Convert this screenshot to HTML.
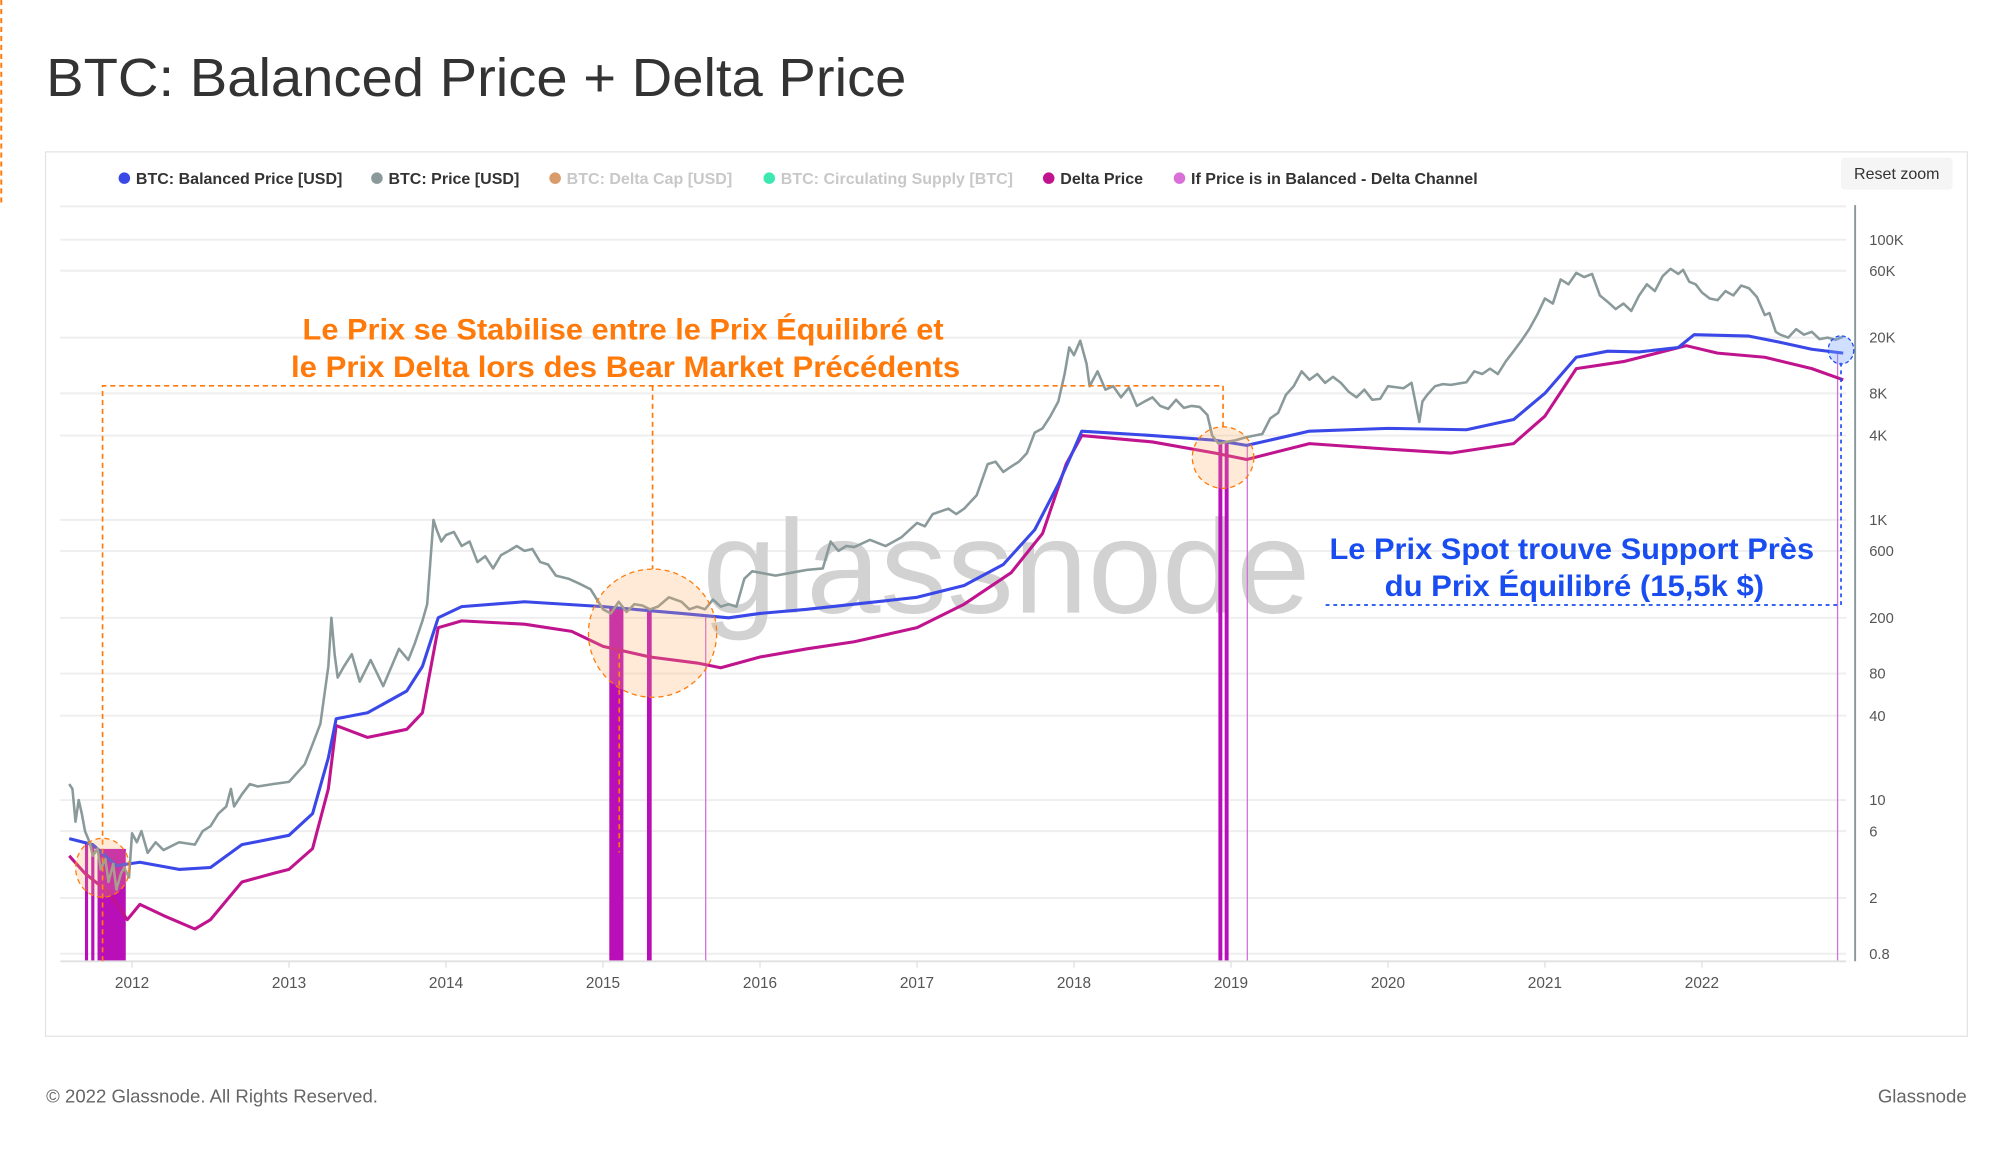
<!DOCTYPE html>
<html><head><meta charset="utf-8"><style>
html,body{margin:0;padding:0;background:#fff;width:2000px;height:1151px;overflow:hidden}
svg{display:block}
text{font-family:"Liberation Sans","DejaVu Sans",sans-serif}
</style></head><body>
<svg id="chart" width="2000" height="1151" viewBox="0 0 1560 898" preserveAspectRatio="none" xmlns="http://www.w3.org/2000/svg">
<line x1="1" y1="0" x2="1" y2="158" stroke="#ff7a0a" stroke-width="1.5" stroke-dasharray="4,3"/>
<text x="36" y="75" font-size="42" fill="#333" textLength="671" lengthAdjust="spacingAndGlyphs">BTC: Balanced Price + Delta Price</text>
<rect x="35.5" y="118.5" width="1499" height="690" fill="#fff" stroke="#e4e4e4"/>
<g font-size="12.5" font-weight="bold">
 <g><circle cx="97" cy="139" r="4.5" fill="#3a48e8"/><text x="106" y="143.5" fill="#333">BTC: Balanced Price [USD]</text></g>
 <g><circle cx="294" cy="139" r="4.5" fill="#8a9a9a"/><text x="303" y="143.5" fill="#333">BTC: Price [USD]</text></g>
 <g><circle cx="433" cy="139" r="4.5" fill="#d89b6c"/><text x="442" y="143.5" fill="#c8c8c8">BTC: Delta Cap [USD]</text></g>
 <g><circle cx="600" cy="139" r="4.5" fill="#3de8b0"/><text x="609" y="143.5" fill="#c8c8c8">BTC: Circulating Supply [BTC]</text></g>
 <g><circle cx="818" cy="139" r="4.5" fill="#c0148f"/><text x="827" y="143.5" fill="#333">Delta Price</text></g>
 <g><circle cx="920" cy="139" r="4.5" fill="#d870d8"/><text x="929" y="143.5" fill="#333">If Price is in Balanced - Delta Channel</text></g>
</g>
<g><rect x="1436" y="123" width="87" height="25" rx="3" fill="#f5f5f5"/><text x="1479.5" y="139.5" font-size="12.5" fill="#333" text-anchor="middle">Reset zoom</text></g>
<g id="grid"></g>
<text x="785" y="478" font-size="104" fill="#d2d2d2" text-anchor="middle">glassnode</text>
<g id="bars"></g>
<g id="lines"></g>
<g id="axes"></g>
<g>
 <g fill="none" stroke="#ff7a0a" stroke-width="1.3" stroke-dasharray="4,3">
  <polyline points="80,750 80,301 954,301 954,333"/>
  <line x1="509" y1="301" x2="509" y2="444"/>
  <line x1="483" y1="510" x2="483" y2="665"/>
 </g>
 <ellipse cx="80" cy="677" rx="21" ry="23" fill="rgba(255,170,100,0.25)" stroke="#ff7a0a" stroke-dasharray="4,3"/>
 <ellipse cx="509" cy="494" rx="50" ry="50" fill="rgba(255,170,100,0.25)" stroke="#ff7a0a" stroke-dasharray="4,3"/>
 <ellipse cx="954" cy="357" rx="24" ry="24" fill="rgba(255,170,100,0.25)" stroke="#ff7a0a" stroke-dasharray="4,3"/>
 <text x="486" y="265" font-size="23" font-weight="bold" fill="#ff7a0a" text-anchor="middle" textLength="500" lengthAdjust="spacingAndGlyphs">Le Prix se Stabilise entre le Prix Équilibré et</text>
 <text x="488" y="294" font-size="23" font-weight="bold" fill="#ff7a0a" text-anchor="middle" textLength="522" lengthAdjust="spacingAndGlyphs">le Prix Delta lors des Bear Market Précédents</text>
 <polyline points="1034,472 1436,472 1436,282" fill="none" stroke="#1a4df0" stroke-width="1.3" stroke-dasharray="3,3"/>
 <ellipse cx="1436" cy="273" rx="10" ry="11" fill="rgba(120,160,255,0.35)" stroke="#1a4df0" stroke-dasharray="3,2"/>
 <text x="1226" y="436" font-size="23" font-weight="bold" fill="#1a4df0" text-anchor="middle" textLength="378" lengthAdjust="spacingAndGlyphs">Le Prix Spot trouve Support Près</text>
 <text x="1228" y="465" font-size="23" font-weight="bold" fill="#1a4df0" text-anchor="middle" textLength="296" lengthAdjust="spacingAndGlyphs">du Prix Équilibré (15,5k $)</text>
</g>
<text x="36" y="860" font-size="14.5" fill="#666">© 2022 Glassnode. All Rights Reserved.</text>
<text x="1534" y="860" font-size="14.5" fill="#666" text-anchor="end">Glassnode</text>
</svg>
<script>
const yTicks=[100000,60000,20000,8000,4000,1000,600,200,80,40,10,6,2,0.8];
const yTickLabels=["100K","60K","20K","8K","4K","1K","600","200","80","40","10","6","2","0.8"];
const xTicks=[2012,2013,2014,2015,2016,2017,2018,2019,2020,2021,2022];
const priceT=[2011.6,2011.62,2011.64,2011.66,2011.68,2011.7,2011.73,2011.75,2011.78,2011.8,2011.83,2011.85,2011.88,2011.9,2011.93,2011.95,2011.98,2012.0,2012.03,2012.06,2012.1,2012.15,2012.2,2012.3,2012.4,2012.45,2012.5,2012.55,2012.6,2012.63,2012.65,2012.7,2012.75,2012.8,2012.9,2013.0,2013.1,2013.15,2013.2,2013.25,2013.27,2013.29,2013.31,2013.35,2013.4,2013.45,2013.52,2013.55,2013.6,2013.7,2013.76,2013.8,2013.85,2013.88,2013.92,2013.94,2013.97,2014.0,2014.05,2014.1,2014.15,2014.2,2014.25,2014.3,2014.35,2014.4,2014.45,2014.5,2014.55,2014.6,2014.65,2014.7,2014.78,2014.85,2014.92,2015.0,2015.05,2015.1,2015.15,2015.2,2015.25,2015.3,2015.35,2015.42,2015.5,2015.55,2015.6,2015.65,2015.7,2015.75,2015.8,2015.85,2015.9,2015.95,2016.0,2016.1,2016.2,2016.3,2016.4,2016.45,2016.5,2016.55,2016.6,2016.7,2016.8,2016.9,2017.0,2017.05,2017.1,2017.2,2017.25,2017.3,2017.38,2017.45,2017.5,2017.55,2017.6,2017.65,2017.7,2017.75,2017.8,2017.85,2017.9,2017.94,2017.97,2018.0,2018.04,2018.08,2018.1,2018.15,2018.2,2018.25,2018.3,2018.35,2018.4,2018.45,2018.5,2018.55,2018.6,2018.65,2018.7,2018.75,2018.8,2018.85,2018.88,2018.92,2018.97,2019.03,2019.1,2019.2,2019.25,2019.3,2019.35,2019.4,2019.45,2019.5,2019.55,2019.6,2019.65,2019.7,2019.75,2019.8,2019.85,2019.9,2019.95,2020.0,2020.1,2020.15,2020.2,2020.22,2020.25,2020.3,2020.35,2020.4,2020.5,2020.55,2020.6,2020.65,2020.7,2020.75,2020.8,2020.85,2020.9,2020.95,2021.0,2021.05,2021.1,2021.15,2021.2,2021.25,2021.3,2021.35,2021.4,2021.45,2021.5,2021.55,2021.6,2021.65,2021.7,2021.75,2021.8,2021.85,2021.88,2021.92,2021.96,2022.0,2022.05,2022.1,2022.15,2022.2,2022.25,2022.3,2022.35,2022.4,2022.43,2022.47,2022.5,2022.55,2022.6,2022.65,2022.7,2022.75,2022.8,2022.85,2022.9];
const priceV=[13,12,7,10,8,6,5,4,4.5,3.2,3.8,2.6,3.5,2.3,3,3.3,2.8,5.8,5,6,4.2,5,4.4,5,4.8,6,6.5,8,9,12,9,11,13,12.5,13,13.5,18,25,35,90,200,110,75,90,110,70,100,85,65,120,100,130,190,250,1000,850,700,780,820,650,700,500,550,450,560,600,650,600,620,500,480,400,380,350,320,230,215,260,220,250,245,230,240,280,260,230,240,230,270,240,250,240,380,430,420,400,420,440,450,700,600,650,640,720,650,750,950,900,1100,1200,1100,1200,1500,2500,2600,2200,2400,2600,3000,4200,4500,5500,7000,11000,17000,15000,19000,13000,9000,11500,8500,9000,7500,8800,6500,7000,7500,6500,6200,7200,6300,6500,6400,5600,4000,3500,3600,3700,3900,4100,5300,5800,7800,9000,11500,10000,11000,9500,10500,9500,8200,7500,8500,7200,7300,9000,8700,9500,5000,7000,7800,9000,9300,9200,9600,11500,11000,12000,11000,13500,16000,19000,23000,29000,38000,35000,52000,48000,58000,54000,57000,40000,36000,32000,35000,31000,40000,48000,43000,55000,62000,57000,61000,50000,48000,42000,38000,37000,43000,40000,47000,45000,39000,29000,30000,22000,21000,20000,23000,21000,22000,19500,20000,19300,20300,16500];
const balT=[2011.6,2011.75,2011.9,2012.05,2012.3,2012.5,2012.7,2013.0,2013.15,2013.25,2013.3,2013.5,2013.75,2013.85,2013.95,2014.1,2014.5,2015.0,2015.5,2015.8,2016.0,2016.3,2016.6,2017.0,2017.3,2017.55,2017.75,2017.9,2018.0,2018.05,2018.5,2018.9,2019.1,2019.5,2020.0,2020.5,2020.8,2021.0,2021.2,2021.4,2021.6,2021.85,2021.95,2022.3,2022.5,2022.7,2022.9];
const balV=[5.3,4.8,3.4,3.6,3.2,3.3,4.8,5.6,8,20,38,42,60,90,200,240,260,240,215,200,215,230,250,280,340,480,850,1800,3200,4300,4000,3700,3400,4300,4500,4400,5200,8000,14500,16000,15800,17000,21000,20500,18500,16500,15500];
const delT=[2011.6,2011.7,2011.85,2011.97,2012.05,2012.2,2012.4,2012.5,2012.7,2012.9,2013.0,2013.15,2013.25,2013.3,2013.5,2013.75,2013.85,2013.95,2014.1,2014.5,2014.8,2015.0,2015.3,2015.6,2015.75,2016.0,2016.3,2016.6,2017.0,2017.3,2017.6,2017.8,2017.95,2018.05,2018.5,2018.9,2019.1,2019.5,2020.0,2020.4,2020.8,2021.0,2021.2,2021.5,2021.9,2022.1,2022.4,2022.7,2022.9];
const delV=[4,3,2.2,1.4,1.8,1.5,1.2,1.4,2.6,3,3.2,4.5,12,34,28,32,42,170,190,180,160,125,105,95,88,105,120,135,170,250,420,800,2500,4000,3600,3000,2700,3500,3200,3000,3500,5500,12000,13500,17500,15500,14500,12000,10000];
const chStart=[2011.7,2011.74,2011.78,2015.04,2015.28,2015.65,2018.92,2018.96,2019.1,2022.86];
const chEnd=[2011.72,2011.76,2011.96,2015.13,2015.31,2015.655,2018.945,2018.985,2019.105,2022.865];

const NS="http://www.w3.org/2000/svg";
const PX0=47,PX1=1440,PY0=160,PY1=750;
function xs(t){return 103+(t-2012)*122.45;}
function ys(v){return 187+(5-Math.log10(v))*109.3;}
function interp(T,V,t){if(t<=T[0])return V[0];for(let i=1;i<T.length;i++){if(t<=T[i]){const f=(t-T[i-1])/(T[i]-T[i-1]);return Math.pow(10,Math.log10(V[i-1])+f*(Math.log10(V[i])-Math.log10(V[i-1])));}}return V[V.length-1];}
function mk(tag,attrs,parent){const e=document.createElementNS(NS,tag);for(const k in attrs)e.setAttribute(k,attrs[k]);parent.appendChild(e);return e;}
const grid=document.getElementById('grid'),axes=document.getElementById('axes'),bars=document.getElementById('bars'),lines=document.getElementById('lines');
yTicks.forEach((v,i)=>{
 const g=mk('line',{x1:PX0,x2:PX1,y1:ys(v),y2:ys(v),stroke:'#eeeeee','stroke-width':1.5},grid);
 
 
 const t=mk('text',{x:1458,y:ys(v)+4,'font-size':11.5,fill:'#555'},axes);
 t.textContent=yTickLabels[i];
 
 
});
const topG=mk('line',{x1:PX0,x2:PX1,y1:PY0+1,y2:PY0+1,stroke:'#eeeeee','stroke-width':1.5},grid);


const xa=mk('line',{x1:PX0,x2:PX1,y1:PY1,y2:PY1,stroke:'#e0e0e0','stroke-width':1.5},axes);


const ya=mk('line',{x1:1447,x2:1447,y1:PY0,y2:PY1,stroke:'#8a9a9a','stroke-width':1.5},axes);


xTicks.forEach(y=>{
 const tk=mk('line',{x1:xs(y),x2:xs(y),y1:PY1,y2:PY1+5,stroke:'#e0e0e0'},axes);
 
 
 const t=mk('text',{x:xs(y),y:771,'font-size':12,fill:'#555','text-anchor':'middle'},axes);
 t.textContent=String(y);
 
 
});
chStart.forEach((s,i)=>{
 const e=chEnd[i];
 const top=Math.min(ys(interp(balT,balV,s)),ys(interp(balT,balV,e)));
 const w=Math.max(1,xs(e)-xs(s));
 const r=mk('rect',{x:xs(s),y:top,width:w,height:PY1-top,fill:w>2?'#b90fb9':'#d070d8'},bars);
 
 
});
function path(T,V,color,w,name){
 let d='';T.forEach((t,i)=>{d+=(i?'L':'M')+xs(t).toFixed(1)+','+ys(V[i]).toFixed(1);});
 const p=mk('path',{d:d,fill:'none',stroke:color,'stroke-width':w,'stroke-linejoin':'round'},lines);
 
 
}
path(delT,delV,'#c0148f',2.4,'delta-price-line');
path(balT,balV,'#3a48e8',2.4,'balanced-price-line');
path(priceT,priceV,'#8a9a9a',2,'price-line');
</script>
</body></html>
